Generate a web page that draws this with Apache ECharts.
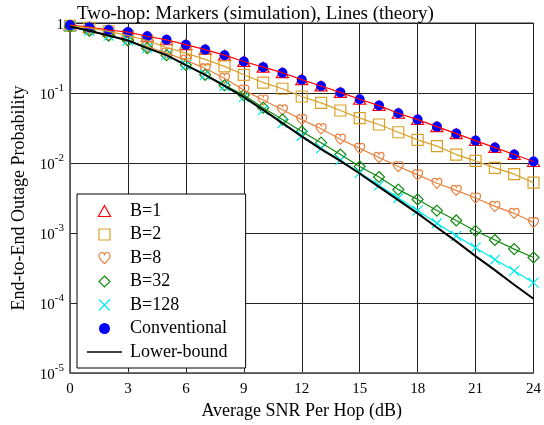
<!DOCTYPE html>
<html>
<head>
<meta charset="utf-8">
<title>Two-hop outage probability</title>
<script src="https://cdn.jsdelivr.net/npm/echarts@6/dist/echarts.min.js"></script>
<style>
html,body{margin:0;padding:0;background:#fff;}
#main{width:544px;height:425px;}
</style>
</head>
<body>
<div id="main"></div>
<script>
// average SNR per hop (dB)
var snr = [0,1,2,3,4,5,6,7,8,9,10,11,12,13,14,15,16,17,18,19,20,21,22,23,24];
var xTicks = [0,3,6,9,12,15,18,21,24];

// end-to-end outage probability
var pB1   = [0.933,0.871,0.794,0.741,0.646,0.575,0.490,0.417,0.347,0.282,0.234,0.195,0.155,0.126,0.102,0.0813,0.0661,0.0513,0.0417,0.0331,0.0263,0.0209,0.0166,0.0132,0.0105];
var pB2   = [0.912,0.851,0.759,0.661,0.562,0.447,0.372,0.302,0.240,0.182,0.141,0.115,0.0891,0.0724,0.0562,0.0437,0.0355,0.0275,0.0214,0.0174,0.0132,0.0107,0.00851,0.00692,0.00525];
var pB8   = [0.891,0.776,0.661,0.562,0.457,0.372,0.295,0.224,0.162,0.110,0.0794,0.0575,0.0417,0.0309,0.0219,0.0162,0.0120,0.00891,0.00676,0.00513,0.00407,0.00316,0.00240,0.00191,0.00141];
var pB32  = [0.891,0.776,0.661,0.562,0.437,0.347,0.251,0.182,0.129,0.0933,0.0617,0.0417,0.0282,0.0195,0.0132,0.00891,0.00631,0.00417,0.00302,0.00209,0.00151,0.00107,0.000794,0.000589,0.000447];
var pB128 = [0.891,0.776,0.661,0.562,0.437,0.347,0.251,0.182,0.126,0.0871,0.0575,0.0372,0.0245,0.0162,0.0110,0.00724,0.00479,0.00316,0.00209,0.00138,0.000912,0.000617,0.000417,0.000288,0.000195];
var pConv = [0.933,0.871,0.794,0.741,0.646,0.575,0.490,0.417,0.347,0.282,0.234,0.195,0.155,0.126,0.102,0.0813,0.0661,0.0513,0.0417,0.0331,0.0263,0.0209,0.0166,0.0132,0.0105];
var pLow  = [0.891,0.776,0.661,0.562,0.437,0.347,0.251,0.182,0.126,0.0871,0.0575,0.0372,0.0240,0.0158,0.0107,0.00708,0.00457,0.00295,0.00191,0.00120,0.000759,0.000468,0.000295,0.000182,0.000115];

var serif = 'Liberation Serif';

// marker shapes (path symbols keep their aspect in the legend)
var sym = {
	tri: 'path://M5,0L10,9L0,9Z',
	sq: 'path://M0,0L10,0L10,10L0,10Z',
	heart: 'path://M5,10C2,7.5 0,5.5 0,3C0,1 1.5,0 2.8,0C4,0 4.7,0.8 5,1.8C5.3,0.8 6,0 7.2,0C8.5,0 10,1 10,3C10,5.5 8,7.5 5,10Z',
	dia: 'path://M5,0L10,5L5,10L0,5Z',
	cross: 'path://M0,0L10,10M10,0L0,10',
	dot: 'path://M5,0A5,5,0,1,1,5,10A5,5,0,1,1,5,0Z',
	bar: 'path://M0,0L35,0L35,1.6L0,1.6Z'
};

function pairs(y){
	var out = [];
	for (var i = 0; i < snr.length; i++) out.push([snr[i], y[i]]);
	return out;
}
function theory(name, y, color, width){
	return {
		name: name, type: 'line', data: pairs(y),
		symbol: 'none', showSymbol: false, silent: true,
		lineStyle: {color: color, width: width || 1.2},
		itemStyle: {color: color}
	};
}
function markers(name, y, shape, size, color, filled){
	return {
		name: name, type: 'scatter', data: pairs(y),
		symbol: shape, symbolSize: size, symbolKeepAspect: true, silent: true,
		itemStyle: filled ? {color: color, opacity: 1} : {color: 'transparent', borderColor: color, borderWidth: 1.2, opacity: 1}
	};
}
function legendItem(name, icon, color, filled){
	return {
		name: name, icon: icon,
		itemStyle: filled ? {color: color, borderWidth: 0, opacity: 1} : {color: 'transparent', borderColor: color, borderWidth: 1.2, opacity: 1}
	};
}

var cB1 = '#ff0000', cB2 = '#d9a128', cB8 = '#e8823f', cB32 = '#128a12', cB128 = '#00ecec', cConv = '#0000ff';

var myChart = echarts.init(document.getElementById('main'));
var option = {
	animation: false,
	title: {
		text: 'Two-hop: Markers (simulation), Lines (theory)',
		left: 72, top: 0,
		textStyle: {fontFamily: serif, fontSize: 19, fontWeight: 'normal', color: '#000'}
	},
	grid: {left: 70, right: 7, top: 23, bottom: 52, show: true, borderColor: '#222', borderWidth: 1},
	legend: {
		orient: 'vertical', left: 77, top: 194,
		padding: [8, 18, 7, 10],
		itemWidth: 35, itemHeight: 11, itemGap: 5.5,
		backgroundColor: '#fff', borderColor: '#000', borderWidth: 1,
		selectedMode: false,
		textStyle: {fontFamily: serif, fontSize: 18, color: '#000', lineHeight: 18, padding: [0, 0, 0, 3]},
		data: [
			legendItem('B=1', sym.tri, cB1, false),
			legendItem('B=2', sym.sq, cB2, false),
			legendItem('B=8', sym.heart, cB8, false),
			legendItem('B=32', sym.dia, cB32, false),
			legendItem('B=128', sym.cross, cB128, false),
			legendItem('Conventional', sym.dot, cConv, true),
			legendItem('Lower-bound', sym.bar, '#000', true)
		]
	},
	xAxis: {
		type: 'value', min: 0, max: 24, interval: 3,
		name: 'Average SNR Per Hop (dB)', nameLocation: 'middle', nameGap: 27,
		nameTextStyle: {fontFamily: serif, fontSize: 18, color: '#000'},
		axisLine: {lineStyle: {color: '#666', width: 1.5}},
		axisTick: {show: false},
		axisLabel: {fontFamily: serif, fontSize: 15, color: '#000', margin: 9,
			formatter: function(v){ return xTicks.indexOf(v) >= 0 ? String(v) : ''; }},
		splitLine: {show: true, lineStyle: {color: '#222', width: 1}}
	},
	yAxis: {
		type: 'log', logBase: 10, min: 1e-5, max: 1,
		name: 'End-to-End Outage Probability', nameLocation: 'middle', nameGap: 42,
		nameTextStyle: {fontFamily: serif, fontSize: 18, color: '#000'},
		axisLine: {show: true, lineStyle: {color: '#666', width: 1.5}},
		axisTick: {show: false},
		axisLabel: {
			margin: 6,
			formatter: function(v){
				var e = Math.round(Math.log(v) / Math.LN10);
				return e === 0 ? '{b|1}' : '{b|10}{s|' + e + '}';
			},
			rich: {
				b: {fontFamily: serif, fontSize: 15, color: '#000', lineHeight: 20, verticalAlign: 'bottom'},
				s: {fontFamily: serif, fontSize: 11, color: '#000', lineHeight: 11, verticalAlign: 'top'}
			}
		},
		splitLine: {show: true, lineStyle: {color: '#222', width: 1}}
	},
	series: [
		theory('B=1 theory', pB1, cB1),
		theory('B=2 theory', pB2, cB2),
		theory('B=8 theory', pB8, cB8),
		theory('B=32 theory', pB32, cB32),
		theory('B=128 theory', pB128, cB128),
		theory('Lower-bound', pLow, '#000', 2),
		markers('B=1', pB1, sym.tri, [12, 11], cB1, false),
		markers('B=2', pB2, sym.sq, [11, 11], cB2, false),
		markers('B=8', pB8, sym.heart, [10, 10], cB8, false),
		markers('B=32', pB32, sym.dia, [11, 11], cB32, false),
		markers('B=128', pB128, sym.cross, [10, 10], cB128, false),
		markers('Conventional', pConv, 'circle', 10, cConv, true)
	]
};
myChart.setOption(option);
</script>
</body>
</html>
